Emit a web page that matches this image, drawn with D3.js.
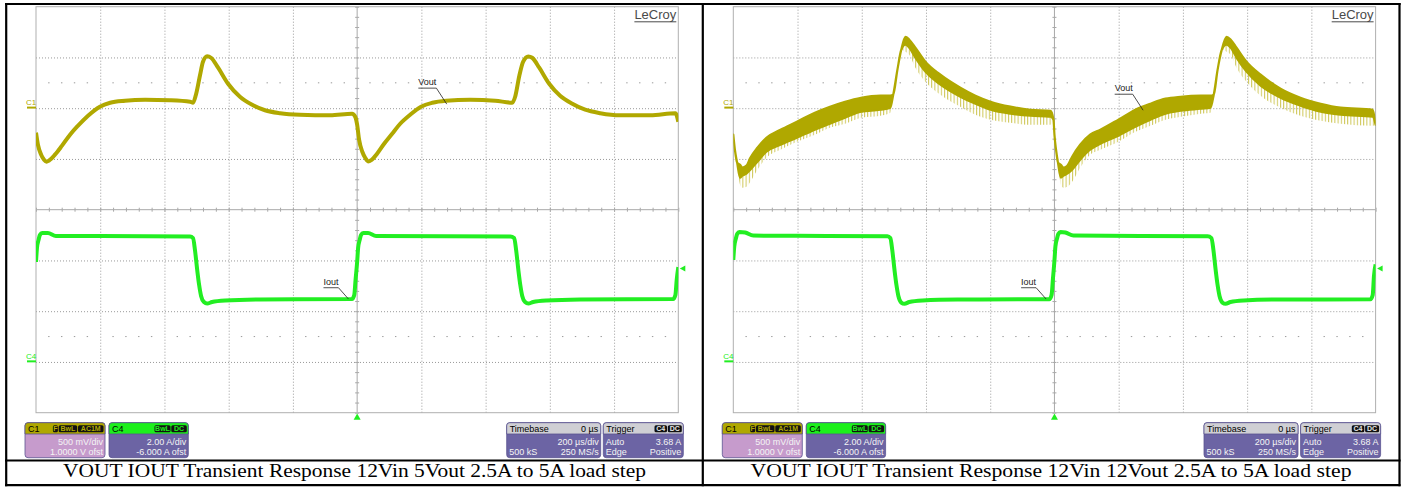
<!DOCTYPE html>
<html>
<head>
<meta charset="utf-8">
<script src="https://cdn.jsdelivr.net/npm/d3@7"></script>
<style>
  body { margin: 0; background: #fff; }
  svg { display: block; }
  text { font-family: "Liberation Sans", Arial, sans-serif; }
</style>
</head>
<body>
<div id="chart"></div>
<script>
// ---- data (time in µs, Vout deviation in mV, Iout in A) ----
const captions = ['VOUT IOUT Transient Response 12Vin 5Vout 2.5A to 5A load step',
                  'VOUT IOUT Transient Response 12Vin 12Vout 2.5A to 5A load step']

// 5Vout trace
const tV5 = [-1000,-994,-984,-975,-967,-960,-941,-919,-894,-869,-838,-801,-769,-723,-660,-583,-520,-511,-502,-489,
             -480,-467,-455,-433,-402,-365,-327,-287,-240,-178,-84,-16,-6,0,
             6,16,25,34,44,62,84,109,134,165,199,234,277,352,430,483,492,505,517,533,
             545,567,598,632,670,710,757,819,913,991,1000]
const v5 = [-241,-360,-458,-507,-527,-517,-458,-369,-261,-172,-74,15,54,74,84,79,64,54,133,330,
            458,512,497,399,241,113,34,-20,-49,-64,-69,-54,-84,-163,
            -310,-429,-488,-524,-512,-448,-350,-251,-153,-64,15,54,74,84,74,54,113,320,458,510,
            497,399,241,123,44,-15,-49,-69,-69,-49,-133]

// 12Vout trace: top and bottom of the dense band, and the lower end of the ripple spikes
const t12 = [-1000,-995,-988,-979,-972,-959,-947,-925,-897,-853,-802,-746,-699,-652,-602,-542,-511,-502,-489,-477,
             -464,-452,-433,-402,-355,-293,-246,-199,-137,-75,-12,-3,0,
             5,11,20,28,40,55,80,111,143,199,252,299,346,393,455,486,496,508,521,536,
             549,567,598,642,704,766,829,891,991,1000]
const v12Hi = [-261,-409,-537,-557,-586,-566,-488,-389,-291,-212,-133,-44,15,64,103,123,123,133,379,576,
               704,675,596,458,330,202,123,64,15,-15,-25,-113,-261,
               -409,-537,-557,-586,-566,-478,-360,-261,-212,-113,-15,44,94,113,123,123,133,379,576,704,
               675,596,458,330,192,103,44,5,-15,-163]
const v12Lo = [-261,-409,-537,-685,-665,-645,-606,-527,-429,-360,-291,-212,-153,-94,-34,-15,5,133,379,576,
               626,596,498,360,232,113,44,-15,-54,-74,-84,-113,-261,
               -409,-537,-685,-665,-645,-606,-507,-409,-350,-271,-182,-113,-54,-25,-5,5,133,379,576,626,
               596,498,360,222,103,25,-34,-64,-84,-163]
const v12Spk = [-261,-409,-537,-754,-783,-773,-724,-606,-488,-409,-330,-261,-192,-153,-94,-74,-44,133,379,576,
                557,527,399,261,133,15,-64,-113,-143,-163,-163,-113,-261,
                -409,-537,-754,-783,-773,-724,-586,-458,-409,-330,-232,-172,-113,-84,-54,-44,133,379,576,557,
                527,399,261,123,5,-74,-123,-153,-172,-163]

// load current
const tI = [-1000,-997,-992,-988,-981,-963,-938,-801,-520,-511,-505,-498,-492,-486,-477,-467,-452,-411,-302,-16,
            -9,-5,0,3,8,12,19,34,59,477,489,495,502,508,514,523,533,548,589,695,984,991,995,1000]
const i5 = [3.94,4.49,4.81,5.0,5.08,5.08,4.96,4.96,4.94,4.88,4.41,3.62,3.03,2.60,2.36,2.30,2.36,2.42,2.46,2.48,
            2.64,3.23,3.94,4.49,4.81,5.0,5.08,5.08,4.96,4.94,4.88,4.41,3.62,3.03,2.60,2.36,2.30,2.36,2.42,2.46,
            2.48,2.64,3.23,3.74]
const i12 = [4.02,4.55,4.86,5.04,5.12,5.10,4.98,4.97,4.95,4.88,4.41,3.62,3.03,2.60,2.34,2.29,2.36,2.42,2.46,2.47,
             2.64,3.23,4.00,4.55,4.86,5.04,5.12,5.10,4.98,4.95,4.88,4.41,3.62,3.03,2.60,2.34,2.29,2.36,2.42,2.46,
             2.47,2.64,3.40,3.84]

const trigLevel = 3.68
const ch1Rows = [['', '500 mV/div'], ['', '1.0000 V ofst']]
const ch4Rows = [['', '2.00 A/div'], ['', '-6.000 A ofst']]
const tbRows = [['', '200 µs/div'], ['500 kS', '250 MS/s']]
const trgRows = [['Auto', '3.68 A'], ['Edge', 'Positive']]

const olive = '#b0a800', green = '#22ee22'
const width = 1405, height = 489

const svg = d3.select('#chart').append('svg')
              .attr('width', width)
              .attr('height', height)

const defs = svg.append('defs')
const pat = defs.append('pattern')
                .attr('id', 'ripple')
                .attr('patternUnits', 'userSpaceOnUse')
                .attr('width', 3.2)
                .attr('height', 8)
pat.append('rect').attr('width', 1).attr('height', 8).attr('fill', '#cdc654')

const panels = [
  { dx: 0, cx: 354.5, capW: 583, caption: captions[0], vout: tV5.map((t, i) => ({ t, v: v5[i] })),
    iout: tI.map((t, i) => ({ t, a: i5[i] })), vNote: [279, 40], iNote: [-27, 2.48] },
  { dx: 697.3, cx: 1051, capW: 601, caption: captions[1],
    band: t12.map((t, i) => ({ t, hi: v12Hi[i], lo: v12Lo[i], spk: v12Spk[i] })),
    iout: tI.map((t, i) => ({ t, a: i12[i] })), vNote: [276, -20], iNote: [-26, 2.48] }
]

function infoBox(g, x, w, head, headFill, headColor, badges, badgeColor, bodyFill, rows) {
  const top = 422.7, h = 35, hh = 11.3
  const b = g.append('g')
  b.append('rect').attr('x', x).attr('y', top).attr('width', w).attr('height', h)
   .attr('rx', 3).attr('fill', bodyFill).attr('stroke', '#5a5490').attr('stroke-width', 0.8)
  b.append('path')
   .attr('d', `M${x},${top + hh}V${top + 3}q0,-3 3,-3H${x + w - 3}q3,0 3,3V${top + hh}Z`)
   .attr('fill', headFill).attr('stroke', '#5a5490').attr('stroke-width', 0.8)
  b.append('text').attr('x', x + 3).attr('y', top + 9).attr('font-size', 9)
   .attr('fill', '#000').text(head)
  if (headColor) {
    b.append('text').attr('x', x + w - 2.5).attr('y', top + 9).attr('font-size', 9)
     .attr('text-anchor', 'end').attr('fill', '#000').text(headColor)
  }
  let right = x + w - 1.5
  badges.slice().reverse().forEach(bd => {
    const bw = bd[1]
    b.append('rect').attr('x', right - bw).attr('y', top + 2.6).attr('width', bw).attr('height', 7)
     .attr('rx', 1.5).attr('fill', '#111')
    b.append('text').attr('x', right - bw / 2).attr('y', top + 8.6).attr('font-size', 7)
     .attr('font-weight', 'bold').attr('text-anchor', 'middle').attr('fill', badgeColor).text(bd[0])
    right -= bw + 0.8
  })
  rows.forEach((r, i) => {
    const y = top + 22 + i * 10.4
    b.append('text').attr('x', x + 2.5).attr('y', y).attr('font-size', 9).attr('fill', '#f4f4f4').text(r[0])
    b.append('text').attr('x', x + w - 2).attr('y', y).attr('font-size', 9)
     .attr('text-anchor', 'end').attr('fill', '#f4f4f4').text(r[1])
  })
}

panels.forEach((p, k) => {
  const g = svg.append('g')
  const x = d3.scaleLinear().domain([-1000, 1000]).range([p.dx + 36, p.dx + 678.3])
  const yV = d3.scaleLinear().domain([-3000, 1000]).range([412.7, 6.7])
  const yI = d3.scaleLinear().domain([-2, 14]).range([412.7, 6.7])
  const gx0 = x(-1000), gx1 = x(1000), gy0 = yV(1000), gy1 = yV(-3000)
  const xDivs = d3.range(-800, 801, 200).filter(d => d !== 0)
  const vDivs = d3.range(-2500, 501, 500).filter(d => d !== -1000)
  const xMinor = d3.range(-1000, 1001, 40)
  const vMinor = d3.range(-3000, 1001, 100)

  // grid
  const grid = g.append('g')
  grid.append('g').attr('transform', `translate(0,${gy1})`)
      .call(d3.axisBottom(x).tickValues(xDivs).tickSize(-(gy1 - gy0)).tickFormat(''))
  grid.append('g').attr('transform', `translate(${gx0},0)`)
      .call(d3.axisLeft(yV).tickValues(vDivs).tickSize(-(gx1 - gx0)).tickFormat(''))
  grid.selectAll('.domain').remove()
  grid.selectAll('line').attr('stroke', '#9a9a9a').attr('stroke-dasharray', '1,2')

  // centre lines with minor ticks
  const yc = yV(-1000), xc = x(0)
  const cl = g.append('g')
  cl.append('line').attr('x1', gx0).attr('x2', gx1).attr('y1', yc).attr('y2', yc)
  cl.append('line').attr('x1', xc).attr('x2', xc).attr('y1', gy0).attr('y2', gy1)
  ;[d3.axisBottom, d3.axisTop].forEach(ax => {
    cl.append('g').attr('transform', `translate(0,${yc})`)
      .call(ax(x).tickValues(xMinor).tickSize(2).tickFormat(''))
  })
  ;[d3.axisLeft, d3.axisRight].forEach(ax => {
    cl.append('g').attr('transform', `translate(${xc},0)`)
      .call(ax(yV).tickValues(vMinor).tickSize(2).tickFormat(''))
  })
  cl.selectAll('.domain').remove()
  cl.selectAll('line').attr('stroke', '#a8a8a8').attr('stroke-width', 1)

  // half-division dot rows
  ;[250, -2250].forEach(v => {
    g.append('g').selectAll('line')
     .data(xMinor.filter(t => (t + 1000) % 200 !== 0))
     .join('line')
     .attr('x1', d => x(d) - 0.7).attr('x2', d => x(d) + 0.7)
     .attr('y1', yV(v)).attr('y2', yV(v))
     .attr('stroke', '#9a9a9a').attr('stroke-width', 1)
  })

  g.append('rect').attr('x', gx0).attr('y', gy0).attr('width', gx1 - gx0).attr('height', gy1 - gy0)
   .attr('fill', 'none').attr('stroke', '#b0b0b0').attr('stroke-width', 1)

  // traces
  const clipId = 'clip' + k
  defs.append('clipPath').attr('id', clipId).append('rect')
      .attr('x', gx0).attr('y', gy0).attr('width', gx1 - gx0).attr('height', gy1 - gy0)
  const tr = g.append('g').attr('clip-path', `url(#${clipId})`)

  if (p.vout) {
    tr.append('path').datum(p.vout)
      .attr('d', d3.line().x(d => x(d.t)).y(d => yV(d.v)).curve(d3.curveMonotoneX))
      .attr('fill', 'none').attr('stroke', olive).attr('stroke-width', 4).attr('stroke-linejoin', 'round')
  } else {
    tr.append('path').datum(p.band)
      .attr('d', d3.area().x(d => x(d.t)).y0(d => yV(d.spk)).y1(d => yV(d.lo)).curve(d3.curveMonotoneX))
      .attr('fill', 'url(#ripple)')
    tr.append('path').datum(p.band)
      .attr('d', d3.area().x(d => x(d.t)).y0(d => yV(d.lo)).y1(d => yV(d.hi)).curve(d3.curveMonotoneX))
      .attr('fill', olive).attr('stroke', olive).attr('stroke-width', 2.2).attr('stroke-linejoin', 'round')
  }

  tr.append('path').datum(p.iout)
    .attr('d', d3.line().x(d => x(d.t)).y(d => yI(d.a)).curve(d3.curveMonotoneX))
    .attr('fill', 'none').attr('stroke', green).attr('stroke-width', 4).attr('stroke-linejoin', 'round')

  // channel markers
  ;[['C1', yV(0), olive], ['C4', yI(0), green]].forEach(m => {
    g.append('text').attr('x', gx0 - 10).attr('y', m[1] - 3).attr('font-size', 8)
     .attr('fill', m[2]).text(m[0])
    g.append('line').attr('x1', gx0 - 9).attr('x2', gx0).attr('y1', m[1] - 0.6).attr('y2', m[1] - 0.6)
     .attr('stroke', m[2]).attr('stroke-width', 2)
  })

  // trigger markers
  g.append('path')
   .attr('d', `M${xc},${gy1 + 0.8}L${xc - 3.5},${gy1 + 7}L${xc + 3.5},${gy1 + 7}Z`).attr('fill', green)
  const yt = yI(trigLevel)
  g.append('path')
   .attr('d', `M${gx1 + 1.5},${yt}L${gx1 + 7},${yt - 3}L${gx1 + 7},${yt + 3}Z`).attr('fill', green)

  // annotations
  const note = (label, ex, ey, dx, dy) => {
    const lx = ex + dx, ly = ey + dy
    const t = g.append('text').attr('x', lx).attr('y', ly - 3).attr('font-size', 9)
               .attr('fill', '#222').text(label)
    const w = t.node().getComputedTextLength()
    g.append('path').attr('d', `M${lx},${ly}H${lx + w}L${ex},${ey}`)
     .attr('fill', 'none').attr('stroke', '#222').attr('stroke-width', 0.8)
  }
  note('Vout', x(p.vNote[0]), yV(p.vNote[1]), -28.4, -16)
  note('Iout', x(p.iNote[0]), yI(p.iNote[1]), -25, -11.3)

  // LeCroy logo
  const logo = g.append('text').attr('x', gx1 - 2).attr('y', 19).attr('font-size', 13)
                .attr('text-anchor', 'end').attr('fill', '#4a4a4a').text('LeCroy')
  const lw = logo.node().getComputedTextLength()
  g.append('line').attr('x1', gx1 - 2 - lw).attr('x2', gx1 - 2).attr('y1', 21.8).attr('y2', 21.8)
   .attr('stroke', '#4a4a4a').attr('stroke-width', 1)

  // info boxes
  const d = p.dx
  infoBox(g, d + 25, 80, 'C1', olive, null, [['F', 5], ['BwL', 18.5], ['AC1M', 25.5]], olive, '#c69bcc', ch1Rows)
  infoBox(g, d + 109, 79.3, 'C4', '#1cf01c', null, [['BwL', 16], ['DC', 15.5]], '#1cf01c', '#6c64a4', ch4Rows)
  infoBox(g, d + 506.7, 94, 'Timebase', '#cfcfd4', '0 µs', [], '#fff', '#6c64a4', tbRows)
  infoBox(g, d + 603.3, 80, 'Trigger', '#cfcfd4', null, [['C4', 12.5], ['DC', 14]], '#e8e8e8', '#6c64a4', trgRows)

  // caption
  svg.append('text').attr('x', p.cx).attr('y', 477).attr('text-anchor', 'middle')
     .style('font-family', '"Liberation Serif", "Times New Roman", serif')
     .attr('font-size', 18.5).attr('textLength', p.capW).attr('lengthAdjust', 'spacingAndGlyphs')
     .attr('fill', '#000').text(p.caption)
})

// table frame
const frame = svg.append('g').attr('stroke', '#000').attr('stroke-width', 2.2)
frame.append('line').attr('x1', 5).attr('x2', 1400.6).attr('y1', 4).attr('y2', 4)
frame.append('line').attr('x1', 5).attr('x2', 1400.6).attr('y1', 460.5).attr('y2', 460.5)
frame.append('line').attr('x1', 5).attr('x2', 1400.6).attr('y1', 485.2).attr('y2', 485.2)
;[6.2, 702.8, 1399.5].forEach(xx => {
  frame.append('line').attr('x1', xx).attr('x2', xx).attr('y1', 3).attr('y2', 486.3)
})
</script>
</body>
</html>
